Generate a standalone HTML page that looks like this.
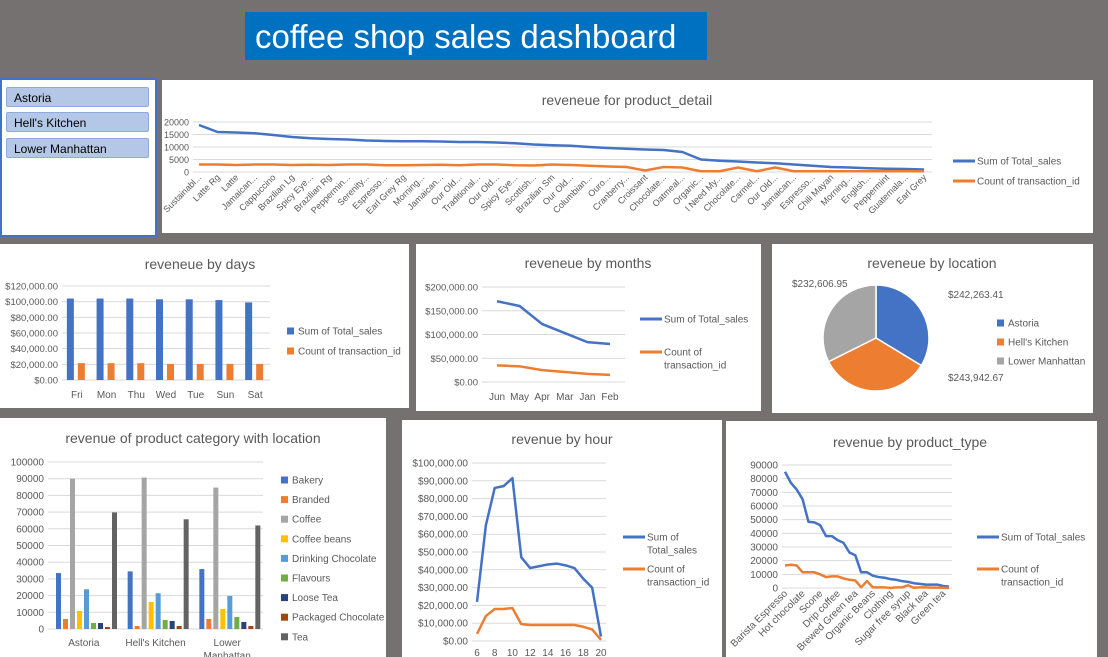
<!DOCTYPE html>
<html><head><meta charset="utf-8"><style>
body{margin:0;width:1108px;height:657px;background:#767171;position:relative;overflow:hidden;font-family:"Liberation Sans",sans-serif}
.p{position:absolute;background:#fff}
.btn{position:absolute;left:4px;width:143px;height:20px;background:#b4c7e7;border:1px solid #8faadc;border-radius:2px;font-size:12px;line-height:20px;padding-left:7px;box-sizing:border-box;color:#000}
svg{position:absolute;left:0;top:0}
svg text{font-family:"Liberation Sans",sans-serif;fill:#595959}
</style></head><body>
<div class="p" style="left:245px;top:12px;width:462px;height:48px;background:#0070c0;color:#fff;font-size:33px;line-height:50px;padding-left:10px;box-sizing:border-box">coffee shop sales dashboard</div>
<div class="p" style="left:0;top:78px;width:157px;height:159px;border:2px solid #4472c4;box-sizing:border-box">
<div class="btn" style="top:7px">Astoria</div>
<div class="btn" style="top:32px">Hell's Kitchen</div>
<div class="btn" style="top:58px">Lower Manhattan</div>
</div>
<div class="p" style="left:162px;top:80px;width:931px;height:153px"></div>
<div class="p" style="left:0;top:244px;width:409px;height:164px"></div>
<div class="p" style="left:416px;top:244px;width:345px;height:167px"></div>
<div class="p" style="left:772px;top:244px;width:321px;height:169px"></div>
<div class="p" style="left:0;top:418px;width:386px;height:239px"></div>
<div class="p" style="left:402px;top:420px;width:320px;height:237px"></div>
<div class="p" style="left:726px;top:421px;width:371px;height:236px"></div>
<svg id="s" width="1108" height="657"></svg>
<script>
const pdCats=["Sustainabl...","Latte Rg","Latte","Jamaican...","Cappuccino","Brazilian Lg","Spicy Eye...","Brazilian Rg","Peppermin...","Serenity...","Espresso...","Earl Grey Rg","Morning...","Jamaican...","Our Old...","Traditional...","Our Old...","Spicy Eye...","Scottish...","Brazilian Sm","Our Old...","Columbian...","Ouro...","Cranberry...","Croissant","Chocolate...","Oatmeal...","Organic...","I Need My...","Chocolate...","Carmel...","Our Old...","Jamaican...","Espresso...","Chili Mayan","Morning...","English...","Peppermint","Guatemala...","Earl Grey"];
const pdSales=[18800,16000,15800,15500,14800,14000,13500,13200,13000,12600,12400,12300,12300,12200,12000,12000,11800,11500,11000,10700,10500,10000,9600,9300,9000,8800,8000,5000,4500,4200,3800,3500,3000,2500,2000,1800,1500,1300,1200,1000];
const pdCount=[3000,3000,2800,3000,3000,2800,2900,2800,3000,3000,2700,2700,2800,2900,2700,3000,3000,2700,2600,3000,2800,2500,2200,2000,600,2000,1800,300,300,1800,300,1800,300,300,300,300,300,300,300,300];
const pdTicks=[0,5000,10000,15000,20000];
const dayCats=["Fri","Mon","Thu","Wed","Tue","Sun","Sat"];
const daySales=[104000,104000,104000,103000,103000,102000,99000];
const dayCount=[21500,21500,21500,20500,20500,20500,20500];
const dayTicks=[0,20000,40000,60000,80000,100000,120000];
const monCats=["Jun","May","Apr","Mar","Jan","Feb"];
const monSales=[170000,160000,122000,103000,84000,80000];
const monCount=[35000,33000,25000,21000,17000,15000];
const monTicks=[0,50000,100000,150000,200000];
const locNames=["Astoria","Hell's Kitchen","Lower Manhattan"];
const locVals=[242263.41,243942.67,232606.95];
const locLabels=["$242,263.41","$243,942.67","$232,606.95"];
const catLocs=["Astoria","Hell's Kitchen","Lower Manhattan"];
const catNames=["Bakery","Branded","Coffee","Coffee beans","Drinking Chocolate","Flavours","Loose Tea","Packaged Chocolate","Tea"];
const catAstoria=[33500,6000,90000,10800,23800,3600,3600,1200,69800];
const catHells=[34500,1800,90700,16200,21400,5400,4800,1800,65700];
const catLower=[35900,6000,84700,12000,19800,7200,4200,1800,62000];
const catTicks=[0,10000,20000,30000,40000,50000,60000,70000,80000,90000,100000];
const hours=[6,7,8,9,10,11,12,13,14,15,16,17,18,19,20];
const hourSales=[22000,65000,86000,87000,91500,47000,41000,42000,43000,43500,42500,41000,35000,30000,2500];
const hourCount=[4000,14000,18000,18000,18500,9500,9000,9000,9000,9000,9000,9000,8000,6500,700];
const hourTicks=[0,10000,20000,30000,40000,50000,60000,70000,80000,90000,100000];
const ptCats=["Barista Espresso","","","Hot chocolate","","","Scone","","","Drip coffee","","","Brewed Green tea","","","Organic Beans","","","Clothing","","","Sugar free syrup","","","Black tea","","","Green tea",""];
const ptSales=[85000,77000,72000,65000,48500,48000,46000,38000,38000,35000,33000,26000,24000,11500,11500,9000,8000,7500,6500,6000,5000,4500,3500,3000,2500,2500,2500,1500,1000];
const ptCount=[16500,17000,16500,11500,11500,11500,10000,8000,8500,8500,7000,6000,5500,500,5000,500,500,500,0,500,500,2000,200,500,500,300,300,200,0];
const ptTicks=[0,10000,20000,30000,40000,50000,60000,70000,80000,90000];

const S=document.getElementById('s');const NS='http://www.w3.org/2000/svg';
function mk(t,a,txt){const e=document.createElementNS(NS,t);for(const k in a)e.setAttribute(k,a[k]);if(txt!==undefined)e.textContent=txt;S.appendChild(e);return e;}
const BLUE='#4472c4',OR='#ed7d31';
const money=v=>'$'+v.toLocaleString('en-US',{minimumFractionDigits:2});
function title(x,y,t,n){const e=mk('text',{x:x,y:y,'font-size':14,'text-anchor':'middle'},t);

}
function yaxis(ticks,x0,x1,y0,y1,max,fmt,fs){const ys=v=>y0-(v/max)*(y0-y1);
ticks.forEach(t=>{const g=mk('line',{x1:x0,x2:x1,y1:ys(t),y2:ys(t),stroke:'#d9d9d9','stroke-width':1});


const l=mk('text',{x:x0-4,y:ys(t)+3.5,'font-size':fs||10,'text-anchor':'end'},fmt(t));

});return ys;}
function line(vals,xs,ys,col,n){const p=mk('polyline',{points:vals.map((v,i)=>xs(i)+','+ys(v)).join(' '),fill:'none',stroke:col,'stroke-width':2.5,'stroke-linejoin':'round'});

}
function legLine(x,y,col,lines,n){const l=mk('line',{x1:x,x2:x+22,y1:y,y2:y,stroke:col,'stroke-width':3});


lines.forEach((t,i)=>mk('text',{x:x+24,y:y+3.5+i*13,'font-size':10},t));}
function legBox(x,y,col,t,n){const r=mk('rect',{x:x,y:y-3.5,width:7,height:7,fill:col});


mk('text',{x:x+11,y:y+3.5,'font-size':10},t);}

// product detail
title(627,105,'reveneue for product_detail','product-detail-title');
{const x0=193,x1=932,ys=yaxis(pdTicks,x0,x1,172,122,20000,v=>String(v),9);
const xs=i=>x0+6+i*(x1-x0-14)/(pdCats.length-1);
line(pdSales,xs,ys,BLUE,'sum-total-sales-line');line(pdCount,xs,ys,OR,'count-transaction-line');
pdCats.forEach((c,i)=>{const t=mk('text',{x:xs(i)+3,y:178,'font-size':9,'text-anchor':'end',transform:`rotate(-45 ${xs(i)+3} 178)`},c);

});
legLine(953,161,BLUE,['Sum of Total_sales'],'legend-sales');legLine(953,181,OR,['Count of transaction_id'],'legend-count');}

// days
title(200,269,'reveneue by days','days-title');
{const x0=62,x1=270,ys=yaxis(dayTicks,x0,x1,380,286,120000,money,9.5);const bw=(x1-x0)/dayCats.length;
dayCats.forEach((c,i)=>{const cx=x0+bw*(i+.5);
const a=mk('rect',{x:cx-10,y:ys(daySales[i]),width:7,height:380-ys(daySales[i]),fill:BLUE});


const b=mk('rect',{x:cx+1,y:ys(dayCount[i]),width:7,height:380-ys(dayCount[i]),fill:OR});


mk('text',{x:cx,y:398,'font-size':10,'text-anchor':'middle'},c);});
legBox(287,331,BLUE,'Sum of Total_sales','legend-sales');legBox(287,351,OR,'Count of transaction_id','legend-count');}

// months
title(588,268,'reveneue by months','months-title');
{const x0=482,x1=625,ys=yaxis(monTicks,x0,x1,382,287,200000,money,9.5);const xs=i=>x0+15+i*(x1-x0-30)/(monCats.length-1);
line(monSales,xs,ys,BLUE,'months-sales-line');line(monCount,xs,ys,OR,'months-count-line');
monCats.forEach((c,i)=>mk('text',{x:xs(i),y:400,'font-size':10,'text-anchor':'middle'},c));
legLine(640,319,BLUE,['Sum of Total_sales'],'legend-sales');legLine(640,352,OR,['Count of','transaction_id'],'legend-count');}

// location pie
title(932,268,'reveneue by location','location-title');
{const cx=876,cy=338,r=53,tot=locVals.reduce((a,b)=>a+b,0);let a0=-Math.PI/2;const cols=[BLUE,OR,'#a5a5a5'];
locVals.forEach((v,i)=>{const a1=a0+v/tot*2*Math.PI;const p=mk('path',{d:`M${cx},${cy} L${cx+r*Math.cos(a0)},${cy+r*Math.sin(a0)} A${r},${r} 0 0 1 ${cx+r*Math.cos(a1)},${cy+r*Math.sin(a1)} Z`,fill:cols[i],stroke:'#fff','stroke-width':1.5});

a0=a1;
legBox(997,323+i*19,cols[i],locNames[i],'legend-'+locNames[i]);});
mk('text',{x:948,y:298,'font-size':10},locLabels[0]);mk('text',{x:948,y:381,'font-size':10},locLabels[1]);mk('text',{x:792,y:287,'font-size':10},locLabels[2]);}

// category
title(193,443,'revenue of product category with location','category-title');
{const x0=48,x1=263,ys=yaxis(catTicks,x0,x1,629,462,100000,v=>String(v),10);const gw=(x1-x0)/3;
const cols=[BLUE,OR,'#a5a5a5','#ffc000','#5b9bd5','#70ad47','#264478','#9e480e','#636363'];
[catAstoria,catHells,catLower].forEach((arr,g)=>{arr.forEach((v,j)=>{const x=x0+g*gw+8+j*7;
const r=mk('rect',{x:x,y:ys(v),width:5,height:629-ys(v),fill:cols[j]});

});});
mk('text',{x:x0+gw*.5,y:646,'font-size':10,'text-anchor':'middle'},'Astoria');mk('text',{x:x0+gw*1.5,y:646,'font-size':10,'text-anchor':'middle'},"Hell's Kitchen");
mk('text',{x:x0+gw*2.5,y:646,'font-size':10,'text-anchor':'middle'},'Lower');mk('text',{x:x0+gw*2.5,y:659,'font-size':10,'text-anchor':'middle'},'Manhattan');
catNames.forEach((c,j)=>legBox(281,480+j*19.6,cols[j],c,'legend-'+c));}

// hour
title(562,444,'revenue by hour','hour-title');
{const x0=472,x1=606,ys=yaxis(hourTicks,x0,x1,641,463,100000,money,10);const xs=i=>x0+5+i*(x1-x0-10)/(hours.length-1);
line(hourSales,xs,ys,BLUE,'hour-sales-line');line(hourCount,xs,ys,OR,'hour-count-line');
hours.forEach((h,i)=>{if(h%2==0)mk('text',{x:xs(i),y:656,'font-size':10,'text-anchor':'middle'},String(h));});
legLine(623,537,BLUE,['Sum of','Total_sales'],'legend-sales');legLine(623,569,OR,['Count of','transaction_id'],'legend-count');}

// product type
title(910,447,'revenue by product_type','product-type-title');
{const x0=782,x1=952,ys=yaxis(ptTicks,x0,x1,588,465,90000,v=>String(v),10);const xs=i=>x0+3+i*(x1-x0-6)/(ptCats.length-1);
line(ptSales,xs,ys,BLUE,'type-sales-line');line(ptCount,xs,ys,OR,'type-count-line');
ptCats.forEach((c,i)=>{if(c){const t=mk('text',{x:xs(i)+3,y:594,'font-size':10,'text-anchor':'end',transform:`rotate(-45 ${xs(i)+3} 594)`},c);

}});
legLine(977,537,BLUE,['Sum of Total_sales'],'legend-sales');legLine(977,569,OR,['Count of','transaction_id'],'legend-count');}
</script>
</body></html>
